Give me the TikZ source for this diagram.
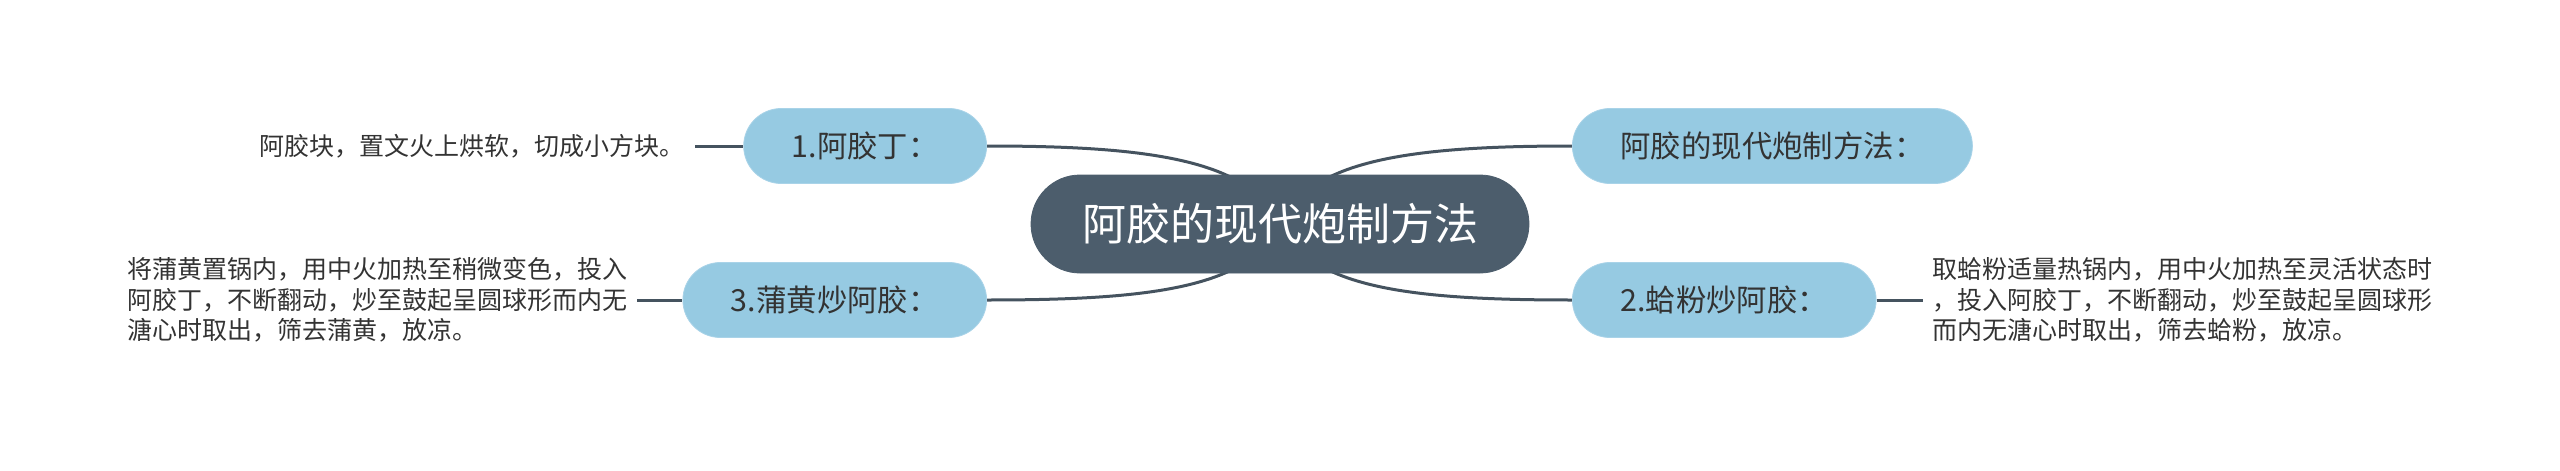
\documentclass[tikz,border=0pt]{standalone}
\usepackage{fontspec}
\setmainfont{Noto Sans CJK SC}
\usetikzlibrary{positioning,backgrounds}
\definecolor{rootfill}{HTML}{4C5D6C}
\definecolor{branchfill}{HTML}{96CAE2}
\definecolor{branchline}{HTML}{A9D3E8}
\definecolor{linkcolor}{HTML}{45535F}
\definecolor{textdark}{HTML}{333333}

\begin{document}
\begin{tikzpicture}[
    x=0.5pt, y=-0.5pt,
    node distance=23pt,
    root/.style={ fill=rootfill, draw=rootfill, text=white,
      rounded corners=24.5pt,
      minimum height=49pt,
      inner xsep=25.5pt,
      font=\fontsize{22pt}{26pt}\selectfont},
    branch/.style={ fill=branchfill, draw=branchline, text=textdark,
      rounded corners=18.75pt,
      minimum height=37.5pt,
      inner xsep=24pt,
      font=\fontsize{15.2pt}{18pt}\selectfont},
    leaf/.style={ text=textdark,
      align=left,
      inner xsep=5pt,
      font=\fontsize{12.5pt}{15.25pt}\selectfont},
    link/.style={draw=linkcolor, line width=1.5pt}]
    \useasboundingbox (0,0) rectangle (2560,471);

    \node[root] (root) at (1280,224) {阿胶的现代炮制方法};
    \node[branch, anchor=east] (dice) at (987,146) {1.阿胶丁：};
    \node[branch, anchor=east] (pollen) at (987,300) {3.蒲黄炒阿胶：};
    \node[branch, anchor=west] (modern) at (1572,146) {阿胶的现代炮制方法：};
    \node[branch, anchor=west] (clam) at (1572,300) {2.蛤粉炒阿胶：};

    \node[leaf, left=24pt of dice] (dicenote) {阿胶块，置文火上烘软，切成小方块。};
    \node[leaf, left=22.5pt of pollen] (pollennote) {将蒲黄置锅内，用中火加热至稍微变色，投入\\阿胶丁，不断翻动，炒至鼓起呈圆球形而内无\\溏心时取出，筛去蒲黄，放凉。};
    \node[leaf, right=23pt of clam] (clamnote) {取蛤粉适量热锅内，用中火加热至灵活状态时\\，投入阿胶丁，不断翻动，炒至鼓起呈圆球形\\而内无溏心时取出，筛去蛤粉，放凉。};

    \begin{scope}[on background layer]
      \draw[link] (root.center) .. controls (1250,160) and (1150,146) .. (dice.east);
      \draw[link] (root.center) .. controls (1250,288) and (1150,300) .. (pollen.east);
      \draw[link] (root.center) .. controls (1310,160) and (1410,146) .. (modern.west);
      \draw[link] (root.center) .. controls (1310,288) and (1410,300) .. (clam.west);
    \end{scope}
    \draw[link] (dicenote) -- (dice);
    \draw[link] (pollennote) -- (pollen);
    \draw[link] (clam) -- (clamnote);
\end{tikzpicture}
\end{document}
